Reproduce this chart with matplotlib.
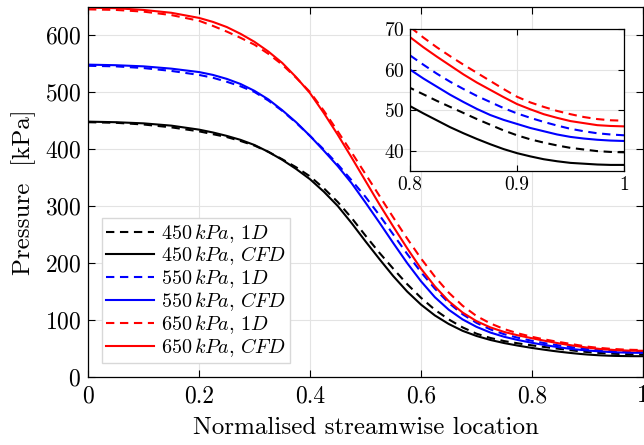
import matplotlib
matplotlib.use("Agg")
import matplotlib.pyplot as plt

# position le long de l'ecoulement (normalisee)
x = [0, 0.05, 0.1, 0.15,
     0.2, 0.225, 0.25, 0.275, 0.3, 0.325, 0.35, 0.375, 0.4, 0.425, 0.45, 0.475,
     0.5, 0.525, 0.55, 0.575, 0.6, 0.625, 0.65, 0.675, 0.7, 0.725, 0.75, 0.775, 0.8,
     0.8125, 0.825, 0.8375, 0.85, 0.8625, 0.875, 0.8875, 0.9,
     0.9125, 0.925, 0.9375, 0.95, 0.9625, 0.975, 0.9875, 1.0]

# pression [kPa], modele 1D et CFD pour chaque pression d'entree
p450_1d = [447, 446, 443, 438,
           431, 426, 421, 414, 406, 395, 382, 368, 352, 331, 307, 279,
           248, 218, 190, 163, 139, 118, 101, 87, 76, 68.5, 63, 59, 55.5,
           53.9, 52.3, 50.8, 49.3, 47.8, 46.4, 45.0, 43.8,
           42.8, 42.0, 41.3, 40.7, 40.3, 39.9, 39.7, 39.6]
p450_cfd = [448, 447, 445, 441,
            434, 429, 423, 416, 407, 395, 381, 365, 347, 325, 300, 270,
            238, 207, 177, 150, 127, 108, 93, 81, 72, 65, 59.5, 55, 51,
            49.2, 47.5, 45.8, 44.3, 42.9, 41.6, 40.4, 39.4,
            38.6, 37.9, 37.4, 37.0, 36.8, 36.6, 36.5, 36.5]
p550_1d = [546, 545, 542, 537,
           530, 525, 518, 510, 500, 485, 467, 446, 423, 399, 373, 345,
           316, 284, 250, 216, 184, 155, 130, 110, 95, 83.5, 75, 68.8, 63.5,
           61.2, 59.0, 57.0, 55.2, 53.5, 52.0, 50.5, 49.2,
           48.1, 47.1, 46.2, 45.4, 44.8, 44.3, 44.0, 43.8]
p550_cfd = [548, 547, 545, 541,
            535, 530, 523, 514, 502, 487, 468, 447, 423, 397, 370, 340,
            306, 271, 235, 200, 168, 140, 118, 101, 88, 78, 70.5, 64.8, 60,
            57.8, 55.8, 53.8, 52.0, 50.3, 48.8, 47.6, 46.6,
            45.6, 44.8, 44.0, 43.4, 43.0, 42.7, 42.5, 42.4]
p650_1d = [645, 644, 641, 635,
           625, 616, 606, 595, 583, 567, 548, 525, 500, 467, 431, 394,
           356, 318, 280, 243, 208, 176, 148, 125, 107, 94, 84, 76.5, 70.5,
           67.9, 65.5, 63.3, 61.2, 59.2, 57.2, 55.2, 53.3,
           51.9, 50.8, 49.8, 49.0, 48.3, 47.8, 47.5, 47.4]
p650_cfd = [648, 647, 644, 639,
            630, 623, 614, 602, 588, 571, 551, 526, 498, 463, 425, 385,
            344, 303, 264, 226, 190, 159, 133, 113, 98, 87, 79, 73, 68,
            65.5, 63.2, 61.0, 58.8, 56.8, 55.0, 53.2, 51.5,
            50.2, 49.0, 48.1, 47.3, 46.8, 46.3, 46.1, 46.0]

labels = [r'$450\,kPa,\,1D$', r'$450\,kPa,\,CFD$',
          r'$550\,kPa,\,1D$', r'$550\,kPa,\,CFD$',
          r'$650\,kPa,\,1D$', r'$650\,kPa,\,CFD$']

plt.rcParams['font.family'] = 'serif'
plt.rcParams['font.serif'] = ['cmr10', 'DejaVu Serif']
plt.rcParams['mathtext.fontset'] = 'cm'
plt.rcParams['axes.formatter.use_mathtext'] = True

dash = (0, (4, 2.7))
series = [(p450_1d, 'k', dash), (p450_cfd, 'k', '-'),
          (p550_1d, 'b', dash), (p550_cfd, 'b', '-'),
          (p650_1d, 'r', dash), (p650_cfd, 'r', '-')]


def style_axes(ax, size):
    ax.tick_params(direction='in', top=True, right=True, labelsize=size,
                   length=5, width=0.8)
    ax.grid(True, color='#e3e3e3', linewidth=0.8)
    ax.set_axisbelow(True)
    for s in ax.spines.values():
        s.set_linewidth(0.9)


fig = plt.figure(figsize=(6.44, 4.45), dpi=100)
ax = fig.add_axes([88 / 644, 68 / 445, 555 / 644, 370.5 / 445])

for (y, c, ls), lab in zip(series, labels):
    ax.plot(x, y, color=c, linestyle=ls, linewidth=1.5, label=lab)

ax.set_xlim(0, 1)
ax.set_ylim(0, 650)
ax.set_xticks([0, 0.2, 0.4, 0.6, 0.8, 1])
ax.set_xticklabels(['0', '0.2', '0.4', '0.6', '0.8', '1'])
ax.set_yticks([0, 100, 200, 300, 400, 500, 600])
style_axes(ax, 17)
ax.tick_params(axis='x', pad=6)
ax.tick_params(axis='y', pad=5)
ax.set_xlabel('Normalised streamwise location', fontsize=18, labelpad=7)
ax.set_ylabel(r'Pressure  [kPa]', fontsize=18, labelpad=6)

leg = ax.legend(loc='lower left', bbox_to_anchor=(0.025, 0.038), borderaxespad=0,
                fontsize=14.5, handlelength=2.4, labelspacing=0.0, borderpad=0.2,
                handletextpad=0.35, fancybox=False, framealpha=1)
leg.get_frame().set_edgecolor('#d8d8d8')
leg.get_frame().set_linewidth(1.0)

# encart : zoom sur la fin du canal
axin = fig.add_axes([410 / 644, 274 / 445, 214 / 644, 142 / 445])
for y, c, ls in series:
    axin.plot(x, y, color=c, linestyle=ls, linewidth=1.5)
axin.set_xlim(0.8, 1)
axin.set_ylim(35, 70)
axin.set_xticks([0.8, 0.9, 1])
axin.set_xticklabels(['0.8', '0.9', '1'])
axin.set_yticks([40, 50, 60, 70])
style_axes(axin, 14)
axin.tick_params(length=4, pad=4)

fig.savefig('out.png', dpi=100)
